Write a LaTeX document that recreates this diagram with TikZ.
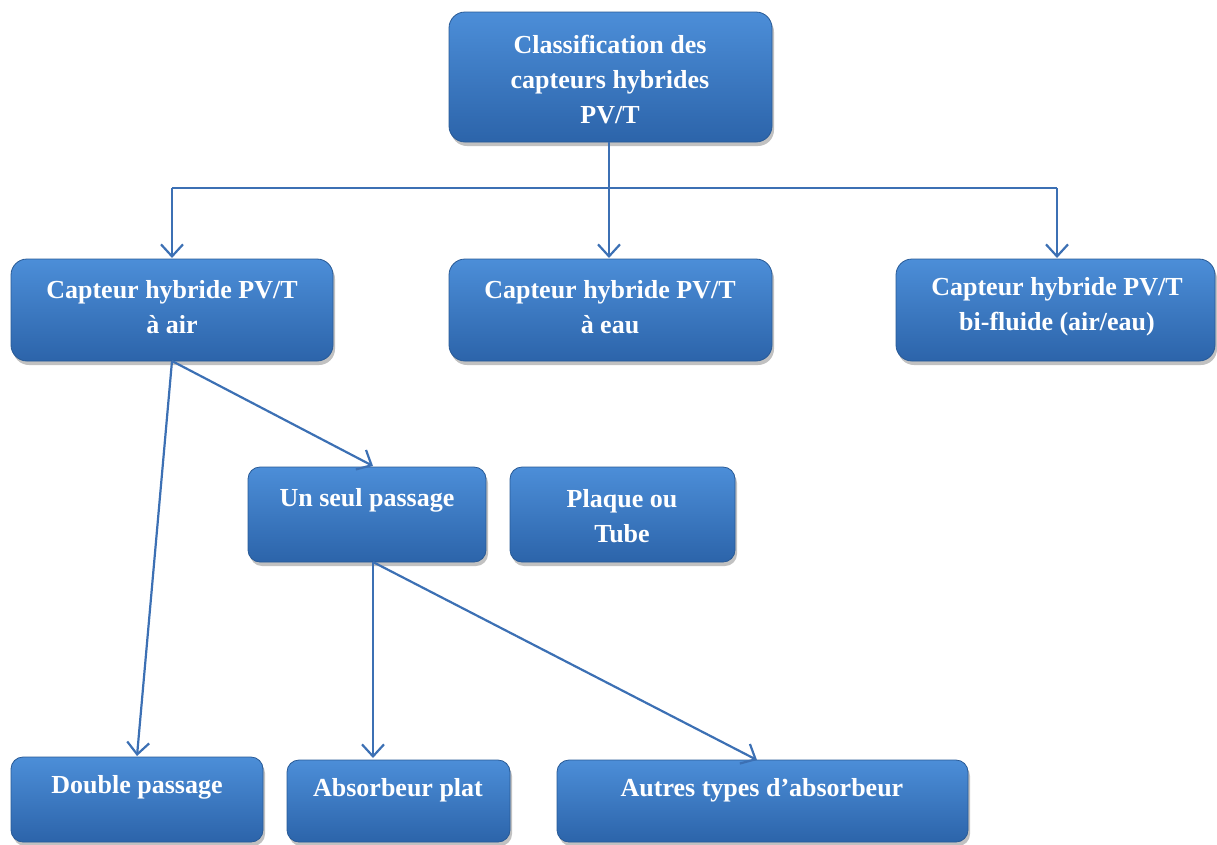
\documentclass[tikz,border=0pt]{standalone}
\usepackage{fontspec}
\setmainfont{Liberation Serif}
\usetikzlibrary{arrows.meta,shadows}
\definecolor{boxtop}{RGB}{76,142,216}
\definecolor{boxbot}{RGB}{44,100,170}
\definecolor{boxedge}{RGB}{40,90,150}
\definecolor{linkc}{RGB}{60,112,180}
\tikzset{
  box/.style={draw=boxedge, line width=0.8pt, rounded corners=16pt,
    top color=boxtop, bottom color=boxbot,
    drop shadow={shadow xshift=2pt, shadow yshift=-4pt, opacity=0.35, fill=black!70}},
  txt/.style={text=white, font=\fontsize{26}{35}\selectfont\bfseries, align=center, inner sep=0pt},
  link/.style={draw=linkc, line width=2.2pt},
  arr/.style={link, -{Straight Barb[length=12pt,width=22pt,line width=2.2pt]}}
}
\begin{document}
\begin{tikzpicture}[x=1pt,y=-1pt]
\useasboundingbox (0,0) rectangle (1217,844);
\clip (0,0) rectangle (1217,844);
% boxes
\path[box] (449,12) rectangle (772,142);
\coordinate (top) at (609,142);
\path[box] (11,259) rectangle (333,361);
\path[box] (449,259) rectangle (772,361);
\path[box] (896,259) rectangle (1215,361);
\path[box, rounded corners=12pt] (248,467) rectangle (486,562);
\path[box, rounded corners=12pt] (510,467) rectangle (735,562);
\path[box, rounded corners=12pt] (11,757) rectangle (263,842);
\path[box, rounded corners=12pt] (287,760) rectangle (510,842);
\path[box, rounded corners=12pt] (557,760) rectangle (968,842);
% texts
\node[txt] (t0) at (610,80) {Classification des\\capteurs hybrides\\PV/T};
\node[txt] (t1) at (172,307) {Capteur hybride PV/T\\à air};
\node[txt] (t2) at (610,307) {Capteur hybride PV/T\\à eau};
\node[txt] (t3) at (1057,307) {Capteur hybride PV/T\\bi-fluide (air/eau)};
\node[txt] (t4) at (367,500) {Un seul passage};
\node[txt] (t5) at (622,516) {Plaque ou\\Tube};
\node[txt] (t6) at (137,787) {Double passage};
\node[txt] (t7) at (398,790) {Absorbeur plat};
\node[txt] (t8) at (762,790) {Autres types d’absorbeur};
% connector anchors
\coordinate (b1top) at (172,258);
\coordinate (b2top) at (609,258);
\coordinate (b3top) at (1057,258);
\coordinate (j) at (609,188);
\coordinate (jl) at (172,188);
\coordinate (jr) at (1057,188);
\coordinate (b1bot) at (172,361);
\coordinate (usptop) at (373,466);
\coordinate (uspbot) at (373,562);
\coordinate (dptop) at (137,756);
\coordinate (aptop) at (373,758);
\coordinate (attop) at (757,760);
% connectors
\draw[link] (top) -- (j);
\draw[link] (jl) -- (jr);
\draw[arr] (jl) -- (b1top);
\draw[arr] (j) -- (b2top);
\draw[arr] (jr) -- (b3top);
\draw[arr] (b1bot) -- (usptop);
\draw[arr] (b1bot) -- (dptop);
\draw[arr] (uspbot) -- (aptop);
\draw[arr] (uspbot) -- (attop);
\end{tikzpicture}
\end{document}
